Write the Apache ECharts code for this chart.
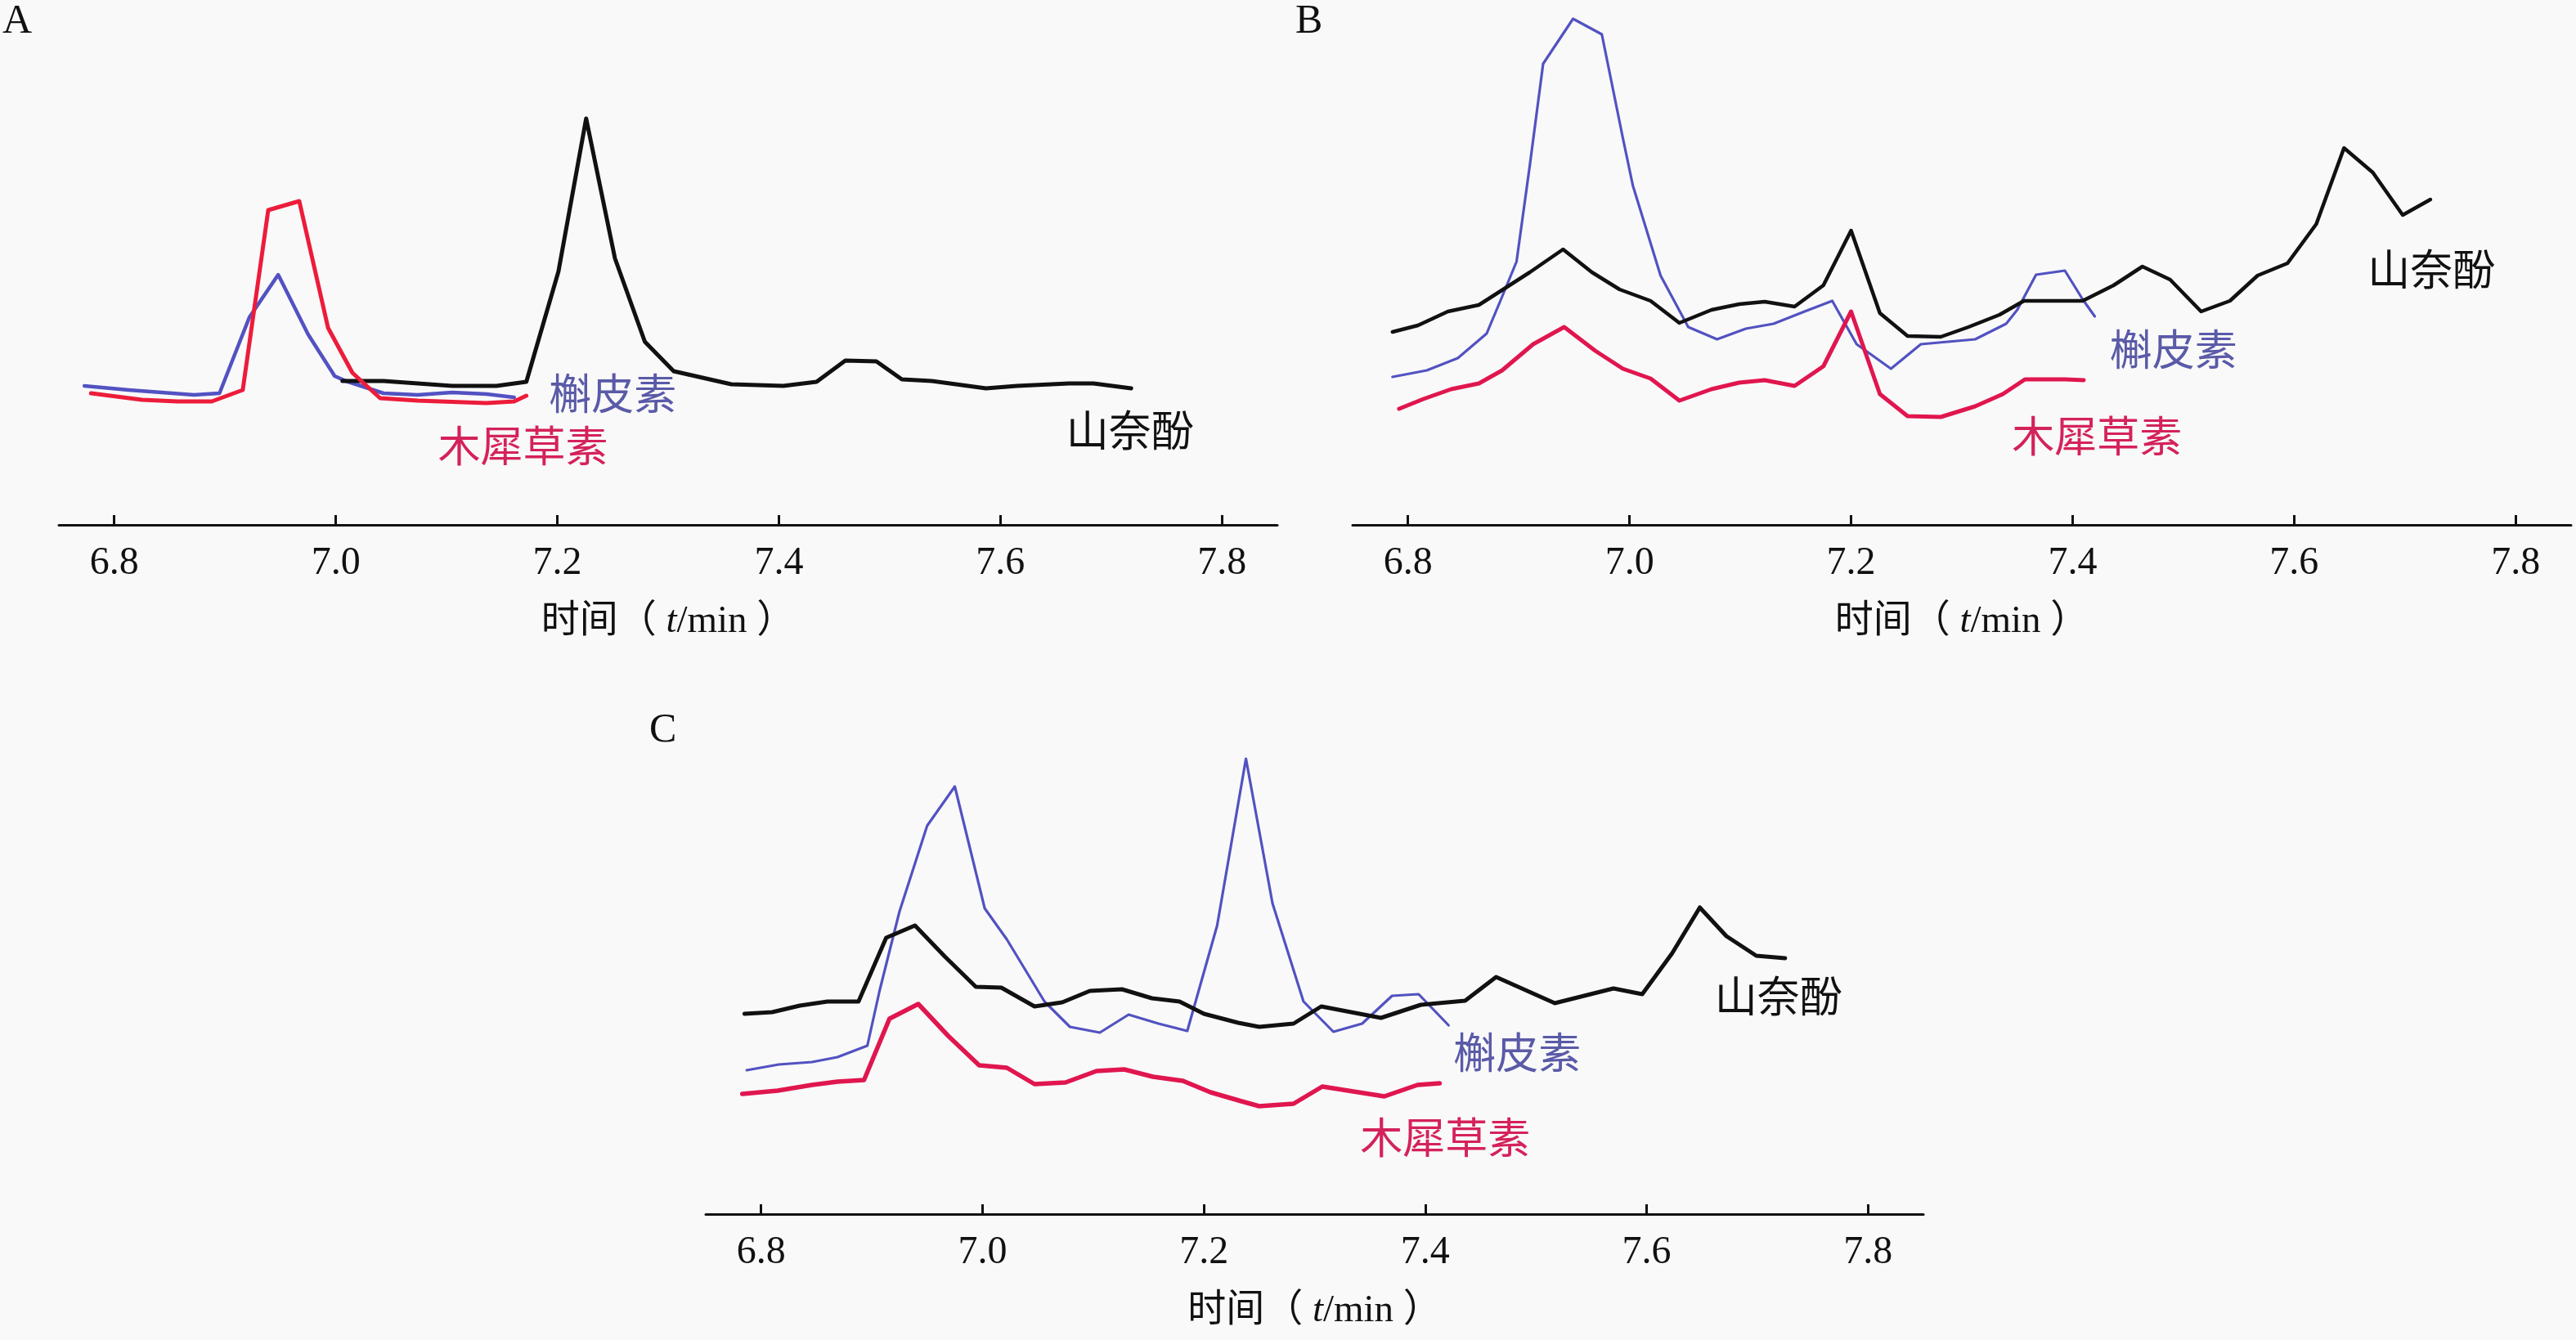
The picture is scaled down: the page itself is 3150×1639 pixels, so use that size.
<!DOCTYPE html>
<html>
<head>
<meta charset="utf-8">
<script src="https://cdn.jsdelivr.net/npm/echarts@6/dist/echarts.min.js"></script>
<style>
html,body{margin:0;padding:0;background:#f9f9f9;}
#chart{width:3150px;height:1639px;}
</style>
</head>
<body>
<div id="chart"></div>
<script>
// ---- data (time in min, signal intensity) ----
const xTicks = [6.8, 7.0, 7.2, 7.4, 7.6, 7.8];
const seriesNames = ['山奈酚', '槲皮素', '木犀草素'];
const panelLabels = ['A', 'B', 'C'];

// Panel A
const A_kaempferol = [[7.006,176],[7.043,176],[7.105,170],[7.145,170],[7.172,175],[7.201,310],[7.226,497],[7.252,326],[7.279,224],[7.305,188],[7.357,172],[7.404,170],[7.434,175],[7.46,201],[7.488,200],[7.511,178],[7.538,176],[7.587,167],[7.615,170],[7.662,173],[7.684,173],[7.718,167]];
const A_quercetin = [[6.773,170],[6.813,165],[6.872,159],[6.895,161],[6.922,254],[6.948,306],[6.975,233],[6.999,182],[7.009,176],[7.043,161],[7.074,159],[7.105,162],[7.136,160],[7.161,156]];
const A_luteolin = [[6.779,161],[6.825,153],[6.857,151],[6.888,151],[6.916,165],[6.939,385],[6.967,396],[6.993,241],[7.015,186],[7.04,155],[7.074,152],[7.136,149],[7.161,151],[7.172,158]];

// Panel B
const B_kaempferol = [[6.786,236],[6.809,244],[6.836,261],[6.864,269],[6.879,282],[6.91,309],[6.94,337],[6.966,309],[6.991,288],[7.019,274],[7.045,247],[7.074,263],[7.099,270],[7.122,273],[7.149,267],[7.175,293],[7.2,360],[7.226,259],[7.251,231],[7.281,230],[7.306,242],[7.334,257],[7.356,274],[7.409,274],[7.437,293],[7.463,316],[7.488,300],[7.516,261],[7.542,274],[7.567,305],[7.594,320],[7.62,368],[7.645,461],[7.671,431],[7.698,379],[7.723,398]];
const B_quercetin = [[6.786,181],[6.817,189],[6.845,204],[6.871,234],[6.884,276],[6.898,322],[6.91,440],[6.922,564],[6.949,619],[6.975,600],[6.994,473],[7.003,415],[7.028,305],[7.053,242],[7.079,227],[7.105,240],[7.13,246],[7.158,261],[7.183,274],[7.205,221],[7.236,191],[7.263,221],[7.312,227],[7.34,246],[7.35,263],[7.367,306],[7.393,311],[7.409,276],[7.42,255]];
const B_luteolin = [[6.792,142],[6.814,154],[6.839,166],[6.864,173],[6.885,189],[6.913,221],[6.941,242],[6.969,213],[6.994,191],[7.019,179],[7.045,152],[7.074,166],[7.099,174],[7.122,177],[7.149,170],[7.175,194],[7.2,261],[7.226,160],[7.251,133],[7.281,132],[7.312,145],[7.337,160],[7.357,178],[7.393,178],[7.41,177]];

// Panel C
const C_kaempferol = [[6.785,245],[6.81,247],[6.835,255],[6.86,260],[6.888,260],[6.913,338],[6.939,353],[6.966,315],[6.994,278],[7.017,277],[7.047,254],[7.072,259],[7.097,273],[7.126,275],[7.153,264],[7.178,260],[7.2,245],[7.231,234],[7.25,229],[7.281,233],[7.306,254],[7.36,240],[7.396,256],[7.436,261],[7.464,290],[7.517,258],[7.57,276],[7.596,269],[7.623,319],[7.648,375],[7.672,340],[7.699,316],[7.725,313]];
const C_quercetin = [[6.787,176],[6.816,183],[6.846,186],[6.869,192],[6.896,206],[6.907,273],[6.925,370],[6.95,475],[6.975,523],[7.002,374],[7.022,336],[7.056,260],[7.079,229],[7.106,222],[7.132,244],[7.159,233],[7.185,224],[7.212,353],[7.238,557],[7.262,380],[7.29,260],[7.317,223],[7.343,233],[7.37,267],[7.394,269],[7.421,231]];
const C_luteolin = [[6.783,147],[6.815,151],[6.846,158],[6.869,162],[6.893,164],[6.916,239],[6.942,257],[6.969,218],[6.997,182],[7.022,179],[7.047,159],[7.075,161],[7.103,175],[7.128,177],[7.154,168],[7.181,163],[7.206,149],[7.234,138],[7.25,132],[7.281,135],[7.307,156],[7.363,144],[7.393,158],[7.413,160]];

// ---- styling ----
const SERIF = "'Liberation Serif','Noto Sans CJK SC'";
const CJK = "'Noto Sans CJK SC'";
const BLACK = '#111111';
const BLUE = '#5252c2';
const REDA = '#ec1c3a';
const RED = '#e0164f';
const BLUE_TXT = '#5a5aa8';
const RED_TXT = '#d4225a';

const grids = [
  {left: 72, top: 0, width: 1490, height: 642},
  {left: 1654, top: 0, width: 1490, height: 642},
  {left: 863, top: 843, width: 1489, height: 642}
];

function xAxisFor(i) {
  return {
    type: 'value', gridIndex: i, min: 6.75, max: 7.85,
    axisLine: {show: true, onZero: false, lineStyle: {color: BLACK, width: 3}},
    axisTick: {show: true, inside: true, length: 12, customValues: xTicks, lineStyle: {color: BLACK, width: 3}},
    axisLabel: {show: true, customValues: xTicks, formatter: v => Number(v).toFixed(1),
      fontSize: 48, fontFamily: SERIF, color: BLACK, margin: 23},
    splitLine: {show: false},
    name: '时间（ {i|t}/min ）', nameLocation: 'middle', nameGap: 95,
    nameTextStyle: {fontSize: 47, fontFamily: SERIF, color: BLACK,
      rich: {i: {fontStyle: 'italic', fontSize: 47, fontFamily: SERIF, color: BLACK}}}
  };
}
function yAxisFor(i) {
  return {type: 'value', gridIndex: i, min: 0, max: 642, show: false};
}
function tag(text, coord, color) {
  return {
    symbol: 'circle', symbolSize: 1, silent: true, animation: false,
    itemStyle: {color: 'rgba(0,0,0,0)'},
    label: {show: true, position: 'inside', formatter: text, color: color,
      fontSize: 52, fontFamily: CJK, align: 'center', verticalAlign: 'middle'},
    data: [{coord: coord}]
  };
}
function line(name, data, i, color, width, mp) {
  return {
    name: name, type: 'line', xAxisIndex: i, yAxisIndex: i, data: data,
    showSymbol: false, symbol: 'none', smooth: false, animation: false,
    lineStyle: {color: color, width: width, join: 'round', cap: 'round'}, itemStyle: {color: color},
    markPoint: mp
  };
}

const option = {
  backgroundColor: '#f9f9f9',
  animation: false,
  title: [
    {text: panelLabels[0], left: 3, top: 2, padding: 0, textStyle: {fontFamily: SERIF, fontSize: 50, fontWeight: 'normal', color: BLACK}},
    {text: panelLabels[1], left: 1584, top: 2, padding: 0, textStyle: {fontFamily: SERIF, fontSize: 50, fontWeight: 'normal', color: BLACK}},
    {text: panelLabels[2], left: 794, top: 869, padding: 0, textStyle: {fontFamily: SERIF, fontSize: 50, fontWeight: 'normal', color: BLACK}}
  ],
  grid: grids,
  xAxis: [xAxisFor(0), xAxisFor(1), xAxisFor(2)],
  yAxis: [yAxisFor(0), yAxisFor(1), yAxisFor(2)],
  series: [
    line(seriesNames[1], A_quercetin, 0, BLUE, 4.5, tag(seriesNames[1], [7.250, 161], BLUE_TXT)),
    line(seriesNames[0], A_kaempferol, 0, BLACK, 5, tag(seriesNames[0], [7.717, 116], BLACK)),
    line(seriesNames[2], A_luteolin, 0, REDA, 5, tag(seriesNames[2], [7.169, 97], RED_TXT)),

    line(seriesNames[1], B_quercetin, 1, BLUE, 3.2, tag(seriesNames[1], [7.491, 215], BLUE_TXT)),
    line(seriesNames[0], B_kaempferol, 1, BLACK, 4.5, tag(seriesNames[0], [7.724, 313], BLACK)),
    line(seriesNames[2], B_luteolin, 1, RED, 5, tag(seriesNames[2], [7.422, 109], RED_TXT)),

    line(seriesNames[1], C_quercetin, 2, BLUE, 3.2, tag(seriesNames[1], [7.483, 198], BLUE_TXT)),
    line(seriesNames[0], C_kaempferol, 2, BLACK, 5, tag(seriesNames[0], [7.719, 267], BLACK)),
    line(seriesNames[2], C_luteolin, 2, RED, 5.5, tag(seriesNames[2], [7.418, 94], RED_TXT))
  ]
};

const chart = echarts.init(document.getElementById('chart'));
chart.setOption(option);
</script>
</body>
</html>
